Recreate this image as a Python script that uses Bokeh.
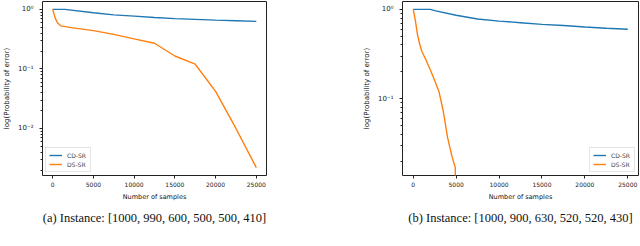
import numpy as np
from bokeh.plotting import figure
from bokeh.layouts import row
from bokeh.models import Range1d, FixedTicker, CustomJSTickFormatter, Title, Legend, LegendItem
from bokeh.embed import file_html
from bokeh.resources import INLINE

# ---------------- data ----------------
x_ticks = [0, 5000, 10000, 15000, 20000, 25000]
x_tick_labels = ["0", "5000", "10000", "15000", "20000", "25000"]
series_names = ["CD-SR", "DS-SR"]

# panel (a)
a_cd_x = [0, 1500, 5000, 7500, 10000, 12500, 15000, 17500, 20000, 22500, 25000]
a_cd_y = [1.0, 1.0, 0.88, 0.81, 0.77, 0.73, 0.70, 0.68, 0.66, 0.645, 0.63]
a_ds_x = [0, 300, 600, 1000, 2500, 5000, 7500, 10000, 12500, 15000, 17500, 20000, 22500, 25000]
a_ds_y = [1.0, 0.72, 0.59, 0.53, 0.49, 0.44, 0.38, 0.32, 0.27, 0.165, 0.12, 0.042, 0.010, 0.0022]
a_caption = "(a) Instance: [1000, 990, 600, 500, 500, 410]"

# panel (b)
b_cd_x = [0, 2000, 2500, 5000, 7500, 10000, 12500, 15000, 17500, 20000, 22500, 25000]
b_cd_y = [1.0, 1.0, 0.97, 0.86, 0.78, 0.74, 0.71, 0.68, 0.66, 0.635, 0.615, 0.60]
b_ds_x = [0, 250, 500, 750, 1000, 1500, 2000, 2500, 3000, 3500, 4000, 4500, 4900, 5000]
b_ds_y = [1.0, 0.75, 0.52, 0.41, 0.34, 0.27, 0.21, 0.16, 0.12, 0.073, 0.037, 0.023, 0.017, 0.0]
b_caption = "(b) Instance: [1000, 900, 630, 520, 520, 430]"

BLUE = "#1f77b4"
ORANGE = "#ff7f0e"
TICK_FONT = "DejaVu Sans"

sup_js = """
const sup = {"-":"\u207b","0":"\u2070","1":"\u00b9","2":"\u00b2","3":"\u00b3","4":"\u2074","5":"\u2075","6":"\u2076","7":"\u2077","8":"\u2078","9":"\u2079"};
const e = Math.round(Math.log10(tick));
return "10" + String(e).split("").map(c => sup[c]).join("");
"""


def log_range(*arrays):
    vals = np.concatenate([np.asarray(a, float) for a in arrays])
    vals = vals[vals > 0]
    lo, hi = np.log10(vals.min()), np.log10(vals.max())
    m = 0.05 * (hi - lo)
    return Range1d(10 ** (lo - m), 10 ** (hi + m))


def make_panel(cd_x, cd_y, ds_x, ds_y, caption, width, border_left, border_right, legend_loc):
    yr = log_range(cd_y, ds_y)
    p = figure(width=width, height=246, y_axis_type="log",
               x_range=Range1d(-1250, 26250), y_range=yr,
               output_backend="svg", toolbar_location=None,
               min_border_left=border_left, min_border_right=border_right,
               min_border_top=1, min_border_bottom=71)
    p.grid.visible = False
    p.outline_line_color = "#222222"
    p.outline_line_width = 1
    p.background_fill_color = "white"
    p.border_fill_color = "white"

    ds_plot = np.where(np.asarray(ds_y, float) > 0, np.asarray(ds_y, float), 1e-8)
    r1 = p.line(cd_x, cd_y, line_color=BLUE, line_width=1.4)
    r2 = p.line(ds_x, ds_plot, line_color=ORANGE, line_width=1.4)

    # axes
    xa = p.xaxis[0]
    xa.ticker = FixedTicker(ticks=x_ticks)
    xa.major_label_overrides = {t: l for t, l in zip(x_ticks, x_tick_labels)}
    xa.axis_label = "Number of samples"
    ya = p.yaxis[0]
    ya.axis_label = "log(Probability of error)"
    decades = [10.0 ** e for e in range(-4, 2)]
    minors = [m * d for d in decades for m in range(2, 10)]
    ya.ticker = FixedTicker(ticks=decades, minor_ticks=minors)
    ya.formatter = CustomJSTickFormatter(code=sup_js)
    for ax in (xa, ya):
        ax.axis_line_color = None
        ax.major_tick_line_color = "#222222"
        ax.minor_tick_line_color = "#222222"
        ax.major_tick_out = 3
        ax.major_tick_in = 0
        ax.minor_tick_out = 2
        ax.minor_tick_in = 0
        ax.major_label_text_font = TICK_FONT
        ax.major_label_text_font_size = "6px"
        ax.major_label_text_color = "#222222"
        ax.axis_label_text_font = TICK_FONT
        ax.axis_label_text_font_style = "normal"
        ax.axis_label_text_color = "#111111"
    xa.minor_tick_line_color = None
    xa.major_label_standoff = 3
    xa.axis_label_standoff = 3
    xa.axis_label_text_font_size = "6.5px"
    ya.major_label_text_font_size = "7px"
    ya.major_label_standoff = 6
    ya.axis_label_standoff = 4
    ya.axis_label_text_font_size = "7px"

    legend = Legend(items=[LegendItem(label=series_names[0], renderers=[r1]),
                           LegendItem(label=series_names[1], renderers=[r2])],
                    location=legend_loc)
    legend.label_text_font = TICK_FONT
    legend.label_text_font_size = "6px"
    legend.label_height = 8
    legend.glyph_height = 8
    legend.glyph_width = 13
    legend.label_standoff = 5
    legend.spacing = 1
    legend.padding = 3
    legend.margin = 3
    legend.border_line_color = "#cccccc"
    legend.border_line_width = 1
    legend.background_fill_alpha = 0.8
    p.add_layout(legend)

    t = Title(text=caption, align="center", text_font="Liberation Serif",
              text_font_size="12.5px", text_font_style="normal", text_color="#111111",
              standoff=10)
    p.add_layout(t, "below")
    return p


pa = make_panel(a_cd_x, a_cd_y, a_ds_x, a_ds_y, a_caption, 320, 36, 54, "bottom_left")
pb = make_panel(b_cd_x, b_cd_y, b_ds_x, b_ds_y, b_caption, 320, 82, 2, "bottom_right")

layout = row(pa, pb)

open("out.html", "w").write(file_html(layout, INLINE))
